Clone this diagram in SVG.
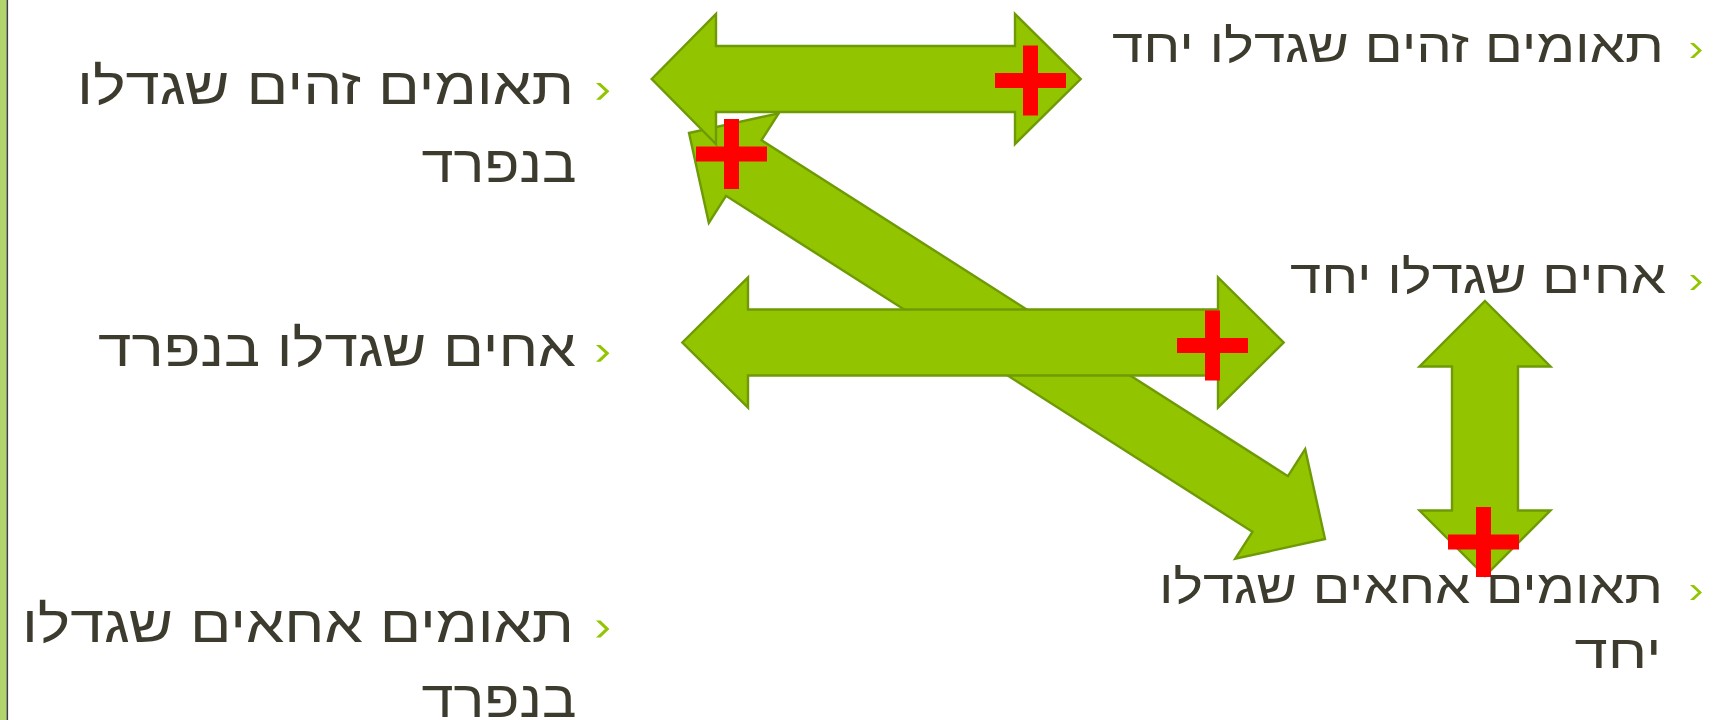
<svg xmlns="http://www.w3.org/2000/svg" xmlns:xlink="http://www.w3.org/1999/xlink" width="1713" height="720" viewBox="0 0 1713 720">
<style>
.lbl{font-family:"Liberation Sans","DejaVu Sans",Arial,sans-serif;fill:#3d3b2e;text-anchor:end}
.r{font-size:47px}
.l{font-size:52px}
.arr{fill:#92c500;stroke:#6e9a06;stroke-width:2.4;stroke-linejoin:miter}
.plus{fill:#ff0000;filter:url(#soft)}
.bul{fill:#92c500}
</style>
<defs>
<filter id="soft" x="-10%" y="-10%" width="120%" height="120%"><feGaussianBlur stdDeviation="0.6"/></filter>
<path id="plusShape" d="M-7.5,-35 L7.5,-35 L7.5,-7.5 L35.5,-7.5 L35.5,7.5 L7.5,7.5 L7.5,35 L-7.5,35 L-7.5,7.5 L-35.5,7.5 L-35.5,-7.5 L-7.5,-7.5 Z"/>
<path id="bulShape" d="M0,-7.5 L4,-7.5 L12,0 L4,7.5 L0,7.5 L8,0 Z"/>
</defs>
<rect x="0" y="0" width="1713" height="720" fill="#ffffff"/>
<g id="frame">
<rect x="0" y="0" width="6.5" height="720" fill="#b2d46c"/>
<line x1="7.3" y1="0" x2="7.3" y2="720" stroke="#3f3f3f" stroke-width="1.6"/>
</g>
<g id="connectors">
<path class="arr" transform="translate(1007,336) rotate(32.55)" d="M-377.25,0 L-312.25,-65 L-312.25,-33 L312.25,-33 L312.25,-65 L377.25,0 L312.25,65 L312.25,33 L-312.25,33 L-312.25,65 Z"/>
<path class="arr" d="M651.7,79 L716,14 L716,46 L1015,46 L1015,14 L1080.7,79 L1015,144 L1015,112 L716,112 L716,144 Z"/>
<path class="arr" d="M682.3,342.5 L748,277.5 L748,309.5 L1218,309.5 L1218,277.5 L1283.7,342.5 L1218,407.5 L1218,375.5 L748,375.5 L748,407.5 Z"/>
<path class="arr" d="M1485,301 L1550.5,366.5 L1518,366.5 L1518,510.5 L1550.5,510.5 L1485,576 L1419.5,510.5 L1452,510.5 L1452,366.5 L1419.5,366.5 Z"/>
</g>
<g id="marks">
<use xlink:href="#plusShape" class="plus" x="1030.5" y="80.5"/>
<use xlink:href="#plusShape" class="plus" x="731.5" y="154"/>
<use xlink:href="#plusShape" class="plus" x="1212.5" y="345.5"/>
<use xlink:href="#plusShape" class="plus" x="1483.5" y="542"/>
</g>
<g id="node-identical-together">
<use xlink:href="#bulShape" class="bul" x="1690" y="50.5"/>
<text class="lbl r" x="1664" y="61.5" textLength="552" lengthAdjust="spacingAndGlyphs">תאומים זהים שגדלו יחד</text>
</g>
<g id="node-siblings-together">
<use xlink:href="#bulShape" class="bul" x="1690" y="282.5"/>
<text class="lbl r" x="1666" y="293.3" textLength="376" lengthAdjust="spacingAndGlyphs">אחים שגדלו יחד</text>
</g>
<g id="node-fraternal-together">
<use xlink:href="#bulShape" class="bul" x="1690" y="592.5"/>
<text class="lbl r" x="1663" y="603.3" textLength="504" lengthAdjust="spacingAndGlyphs">תאומים אחאים שגדלו</text>
<text class="lbl r" x="1661.5" y="668.3" textLength="87" lengthAdjust="spacingAndGlyphs">יחד</text>
</g>
<g id="node-identical-apart">
<use xlink:href="#bulShape" class="bul" transform="translate(596,91.3) scale(1.12)"/>
<text class="lbl l" x="574" y="104" textLength="497" lengthAdjust="spacingAndGlyphs">תאומים זהים שגדלו</text>
<text class="lbl l" x="576.5" y="181.7" textLength="155" lengthAdjust="spacingAndGlyphs">בנפרד</text>
</g>
<g id="node-siblings-apart">
<use xlink:href="#bulShape" class="bul" transform="translate(596,353.3) scale(1.12)"/>
<text class="lbl l" x="576" y="366" textLength="478" lengthAdjust="spacingAndGlyphs">אחים שגדלו בנפרד</text>
</g>
<g id="node-fraternal-apart">
<use xlink:href="#bulShape" class="bul" transform="translate(596,629) scale(1.12)"/>
<text class="lbl l" x="574" y="641.7" textLength="552" lengthAdjust="spacingAndGlyphs">תאומים אחאים שגדלו</text>
<text class="lbl l" x="576.5" y="716.5" textLength="155" lengthAdjust="spacingAndGlyphs">בנפרד</text>
</g>
</svg>
